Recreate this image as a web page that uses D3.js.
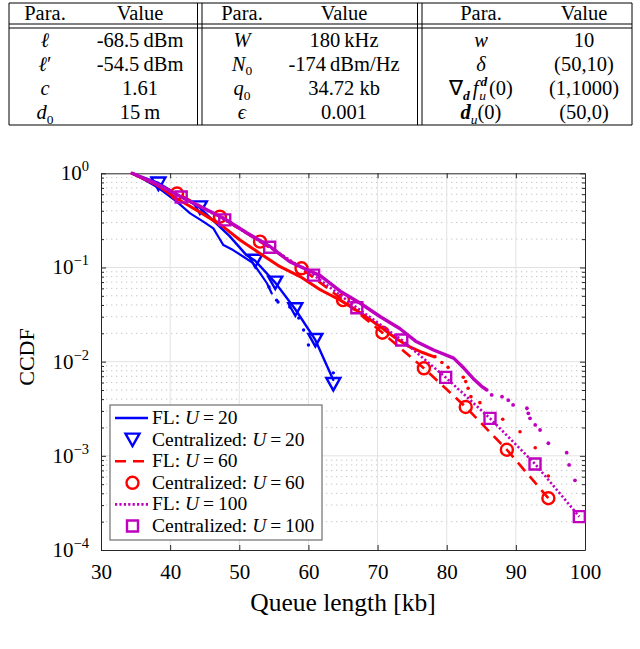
<!DOCTYPE html>
<html><head><meta charset="utf-8">
<script src="https://cdn.jsdelivr.net/npm/d3@7"></script>
<style>
body{margin:0;background:#fff}
svg{display:block}
text{font-family:"Liberation Serif","Times New Roman",serif;fill:#000}
</style>
</head><body>
<svg id="c" width="640" height="649"></svg>
<script>
// ---------------- data ----------------
const xTicks = [30, 40, 50, 60, 70, 80, 90, 100];
const yTicks = [1e-4, 1e-3, 1e-2, 1e-1, 1];
const yTickExp = ["\u22124", "\u22123", "\u22122", "\u22121", "0"];

// FL smooth curves
const flU20 = [[34.5,1],[38.3,0.79],[41,0.6],[44.3,0.43],[48.6,0.215],[51,0.136],[52.3,0.118],[55.2,0.069],[58.1,0.036],[61,0.017],[63.6,0.0064]];
const flU60 = [[34.5,1],[41,0.61],[47.2,0.346],[53,0.188],[59,0.098],[65,0.045],[70.7,0.0203],[76.7,0.0085],[82.75,0.0033],[88.7,0.00116],[94.7,0.000355]];
const flU100 = [[34.5,1],[41.6,0.56],[47.9,0.32],[54.4,0.164],[60.75,0.083],[67,0.0374],[73.5,0.017],[79.85,0.0068],[86.26,0.0025],[92.77,0.00082],[99.18,0.000226]];

// Centralized markers
const centU20 = [[38.3,0.78],[44.3,0.435],[52.3,0.118],[55.2,0.069],[58.1,0.036],[61.0,0.017],[63.6,0.0058]];
const centU60 = [[41,0.61],[47.2,0.346],[53,0.188],[59,0.098],[65,0.045],[70.7,0.0203],[76.7,0.0085],[82.75,0.0033],[88.7,0.00116],[94.7,0.000355]];
const centU100 = [[41.6,0.56],[47.9,0.32],[54.4,0.164],[60.75,0.083],[67,0.0374],[73.5,0.017],[79.85,0.0068],[86.26,0.0025],[92.77,0.00082],[99.18,0.000226]];

// empirical (unlabelled) traces and their sparse tails
const empU20 = [[34.5,1],[36.2,0.86],[38.05,0.72],[40.95,0.5],[42.9,0.376],[44.8,0.307],[46.25,0.26],[46.97,0.212],[47.7,0.173],[49.1,0.153],[50.6,0.13],[52,0.111],[53,0.087],[54,0.068],[54.7,0.053]];
const dotsU20 = [[54.3,0.062],[55.4,0.045],[55.6,0.043],[57.3,0.038],[58.6,0.029],[59.3,0.0217],[60,0.015],[63.6,0.0076]];
const empU60 = [[34.5,1],[38,0.76],[40.95,0.54],[44.5,0.38],[47.7,0.27],[50.1,0.196],[53,0.141],[55.9,0.102],[58.8,0.08],[61.7,0.058],[64.6,0.045],[67.5,0.033],[70.4,0.0235],[72.5,0.018],[74.5,0.0145],[76.5,0.0125],[78.1,0.0113]];
const dotsU60 = [[78.3,0.0113],[79.3,0.0098],[80.2,0.0087],[82.4,0.00683],[82.75,0.00614],[83.1,0.00522],[83.5,0.00425],[84.8,0.00367],[88.1,0.00245],[90.6,0.0018],[92.8,0.00122],[94.7,0.00061]];
const empU100 = [[34.5,1],[38,0.78],[41.6,0.56],[47.7,0.335],[51,0.235],[54.4,0.168],[57.3,0.115],[61.7,0.082],[64.6,0.056],[67.5,0.0417],[70.4,0.030],[73.2,0.0225],[75.5,0.0165],[78.1,0.0133],[81,0.0109],[82.5,0.0085],[83.85,0.0066],[85,0.0055],[85.8,0.005]];
const dotsU100 = [[86.5,0.00443],[88.0,0.00425],[88.9,0.0039],[89.6,0.00347],[91.6,0.0032],[91.8,0.00283],[92.05,0.0025],[92.8,0.00213],[93.5,0.00188],[94.7,0.00136],[97.35,0.00108],[97.7,0.0008],[98.55,0.00055]];

// legend
const legendLabels = [["FL: ","U"," = 20"],["Centralized: ","U"," = 20"],["FL: ","U"," = 60"],["Centralized: ","U"," = 60"],["FL: ","U"," = 100"],["Centralized: ","U"," = 100"]];

// table
const tableHeaders = ["Para.", "Value", "Para.", "Value", "Para.", "Value"];
const tableParams = [
  [ [["\u2113","i"]], [["\u2113","i"],["\u2032","n"]], [["c","i"]], [["d","i"],["0","n","sub"]] ],
  [ [["W","i"]], [["N","i"],["0","n","sub"]], [["q","i"],["0","n","sub"]], [["\u03F5","i"]] ],
  [ [["w","i"]], [["\u03B4","i"]], [["\u2207","n"],["d","bi","sub"],["f","i","base",3],["d","bi","sup",2],["u","i","subback"],["(0)","n","base",3]], [["d","bi"],["u","i","sub"],["(0)","n"]] ]
];
const tableValues = [
  ["-68.5\u2009dBm", "-54.5\u2009dBm", "1.61", "15\u2009m"],
  ["180\u2009kHz", "-174\u2009dBm/Hz", "34.72 kb", "0.001"],
  ["10", "(50,10)", "(1,1000)", "(50,0)"]
];

// ---------------- drawing ----------------
const svg = d3.select("#c");
const BLUE = "#0000ff", RED = "#ff0000", MAG = "#bf00bf";

// ---- table ----
const T = {l: 9, r: 632, t: 3, hb: 24, bt: 28, b: 125, v: [[197.5, 202], [417.5, 422]]};
const tg = svg.append("g").attr("stroke", "#000").attr("stroke-width", 1).attr("fill", "none");
[T.t, T.hb, T.bt, T.b].forEach(yy => tg.append("line").attr("x1", T.l).attr("x2", T.r).attr("y1", yy).attr("y2", yy));
[T.l, T.r].forEach(xx => tg.append("line").attr("x1", xx).attr("x2", xx).attr("y1", T.t).attr("y2", T.b));
T.v.forEach(p => p.forEach(xx => tg.append("line").attr("x1", xx).attr("x2", xx).attr("y1", T.t).attr("y2", T.b)));

const FS = 20.5;
const colCx = [[45, 140], [242, 344], [481, 584]];
const rowBase = [46.5, 70.7, 95, 119.3];
colCx.forEach((c, gi) => {
  svg.append("text").attr("x", c[0]).attr("y", 19.5).attr("text-anchor", "middle").attr("font-size", FS).text(tableHeaders[gi * 2]);
  svg.append("text").attr("x", c[1]).attr("y", 19.5).attr("text-anchor", "middle").attr("font-size", FS).text(tableHeaders[gi * 2 + 1]);
  tableParams[gi].forEach((spec, ri) => {
    const t = svg.append("text").attr("x", c[0]).attr("y", rowBase[ri]).attr("text-anchor", "middle").attr("font-size", FS);
    let cur = 0;
    spec.forEach(tok => {
      const [str, sty, pos, extra] = tok;
      let target = 0, dx = extra || 0, fs = FS;
      if (pos === "sub") { target = 4.5; fs = 13.5; }
      else if (pos === "sup") { target = -9.5; fs = 13.5; }
      else if (pos === "subback") { target = 4.5; fs = 13.5; dx = -8; }
      const ts = t.append("tspan").attr("dy", target - cur).attr("font-size", fs).text(str);
      if (dx) ts.attr("dx", dx);
      if (sty === "i") ts.attr("font-style", "italic");
      if (sty === "bi") ts.attr("font-style", "italic").attr("font-weight", "bold");
      cur = target;
    });
    svg.append("text").attr("x", c[1]).attr("y", rowBase[ri]).attr("text-anchor", "middle").attr("font-size", FS).text(tableValues[gi][ri]);
  });
});

// ---- plot ----
const P = {l: 101, r: 585, t: 173.3, b: 550};
const x = d3.scaleLinear().domain([30, 100]).range([P.l, P.r]);
const y = d3.scaleLog().domain([1e-4, 1]).range([P.b, P.t]);

const grid = svg.append("g");
const minorY = y.ticks().filter(v => !yTicks.some(d => Math.abs(Math.log10(v) - Math.log10(d)) < 1e-6));
grid.selectAll(".mn").data(minorY).enter().append("line")
  .attr("x1", P.l).attr("x2", P.r).attr("y1", d => y(d)).attr("y2", d => y(d))
  .attr("stroke", "#c4c4c4").attr("stroke-width", 1).attr("stroke-dasharray", "1.3,3.7");
grid.selectAll(".mj").data(yTicks.slice(1, -1)).enter().append("line")
  .attr("x1", P.l).attr("x2", P.r).attr("y1", d => y(d)).attr("y2", d => y(d))
  .attr("stroke", "#e2e2e2").attr("stroke-width", 1);
grid.selectAll(".mx").data(xTicks.slice(1, -1)).enter().append("line")
  .attr("x1", d => x(d)).attr("x2", d => x(d)).attr("y1", P.t).attr("y2", P.b)
  .attr("stroke", "#e2e2e2").attr("stroke-width", 1);

// axes
function styleAxis(g) { g.selectAll("path,line").attr("stroke", "#262626"); g.selectAll("text").remove(); }
svg.append("g").attr("transform", `translate(0,${P.b})`)
  .call(d3.axisBottom(x).tickValues(xTicks).tickSize(-5).tickSizeOuter(0).tickPadding(14))
  .call(g => { g.attr("font-family", null); g.selectAll("path,line").attr("stroke", "#262626");
    g.selectAll("text").attr("font-size", 21).attr("fill", "#000"); });
svg.append("g").attr("transform", `translate(0,${P.t})`)
  .call(d3.axisTop(x).tickValues(xTicks).tickSize(-5).tickSizeOuter(0)).call(styleAxis);
svg.append("g").attr("transform", `translate(${P.l},0)`)
  .call(d3.axisLeft(y).tickValues(yTicks).tickSize(-5).tickSizeOuter(0)).call(styleAxis);
svg.append("g").attr("transform", `translate(${P.l},0)`)
  .call(d3.axisLeft(y).tickValues(minorY).tickSize(-3).tickSizeOuter(0)).call(styleAxis)
  .select(".domain").remove();
svg.append("g").attr("transform", `translate(${P.r},0)`)
  .call(d3.axisRight(y).tickValues(yTicks).tickSize(-5).tickSizeOuter(0)).call(styleAxis);
svg.append("g").attr("transform", `translate(${P.r},0)`)
  .call(d3.axisRight(y).tickValues(minorY).tickSize(-3).tickSizeOuter(0)).call(styleAxis)
  .select(".domain").remove();

// y tick labels 10^k
yTicks.forEach((v, i) => {
  const t = svg.append("text").attr("x", 89).attr("y", y(v) + 7).attr("text-anchor", "end").attr("font-size", 21);
  t.append("tspan").text("10");
  t.append("tspan").attr("dy", -9).attr("font-size", 14.5).text(yTickExp[i]);
});

// axis titles
svg.append("text").attr("x", (P.l + P.r) / 2).attr("y", 611).attr("text-anchor", "middle").attr("font-size", 25.5).text("Queue length [kb]");
svg.append("text").attr("transform", `translate(34,357) rotate(-90)`).attr("text-anchor", "middle").attr("font-size", 22).text("CCDF");

// series
const line = d3.line().x(d => x(d[0])).y(d => y(d[1]));
const plot = svg.append("g");
function trace(data, color, w, dash) {
  const p = plot.append("path").datum(data).attr("d", line).attr("fill", "none")
    .attr("stroke", color).attr("stroke-width", w).attr("stroke-linejoin", "round");
  if (dash) p.attr("stroke-dasharray", dash); else p.attr("stroke-linecap", "round");
  return p;
}
function dots(data, color, r) {
  plot.append("g").selectAll("circle").data(data).enter().append("circle")
    .attr("cx", d => x(d[0])).attr("cy", d => y(d[1])).attr("r", r).attr("fill", color);
}
const triPath = "M-7,-6L7,-6L0,6.5Z";
const sqPath = "M-5.5,-5.5L5.5,-5.5L5.5,5.5L-5.5,5.5Z";
function markers(data, color, kind) {
  const g = plot.append("g");
  data.forEach(d => {
    const tx = x(d[0]), ty = y(d[1]);
    if (kind === "c") g.append("circle").attr("cx", tx).attr("cy", ty).attr("r", 6).attr("fill", "none").attr("stroke", color).attr("stroke-width", 2.4);
    else g.append("path").attr("d", kind === "t" ? triPath : sqPath).attr("transform", `translate(${tx},${ty})`)
      .attr("fill", "none").attr("stroke", color).attr("stroke-width", 2.4).attr("stroke-linejoin", "miter");
  });
}

trace(empU20, BLUE, 2.2);
dots(dotsU20, BLUE, 1.7);
trace(flU20, BLUE, 2.4);
markers(centU20, BLUE, "t");

trace(empU60, RED, 3);
dots(dotsU60, RED, 1.8);
trace(flU60, RED, 2.6, "11,7");
markers(centU60, RED, "c");

trace(empU100, MAG, 3.4);
dots(dotsU100, MAG, 1.9);
trace(flU100, MAG, 2.6, "2.2,2.2");
markers(centU100, MAG, "s");

// legend
const L = {x: 110, y: 405, w: 212, h: 135, r0: 418, dy: 21.6};
const lg = svg.append("g");
lg.append("rect").attr("x", L.x).attr("y", L.y).attr("width", L.w).attr("height", L.h)
  .attr("fill", "#fff").attr("stroke", "#6e6e6e").attr("stroke-width", 1.2);
const legSpec = [
  {c: BLUE, type: "line"}, {c: BLUE, type: "t"},
  {c: RED, type: "line", dash: "11,7"}, {c: RED, type: "c"},
  {c: MAG, type: "line", dash: "2.2,2.2"}, {c: MAG, type: "s"}
];
legSpec.forEach((s, i) => {
  const yy = L.r0 + i * L.dy;
  if (s.type === "line") {
    const l = lg.append("line").attr("x1", 115).attr("x2", 148).attr("y1", yy).attr("y2", yy)
      .attr("stroke", s.c).attr("stroke-width", 2.6);
    if (s.dash) l.attr("stroke-dasharray", s.dash);
  } else if (s.type === "c") {
    lg.append("circle").attr("cx", 132.5).attr("cy", yy).attr("r", 6).attr("fill", "none").attr("stroke", s.c).attr("stroke-width", 2.4);
  } else {
    lg.append("path").attr("d", s.type === "t" ? triPath : sqPath).attr("transform", `translate(132.5,${yy})`)
      .attr("fill", "none").attr("stroke", s.c).attr("stroke-width", 2.4);
  }
  const t = lg.append("text").attr("x", 152).attr("y", yy + 6).attr("font-size", 19.5);
  t.append("tspan").text(legendLabels[i][0]);
  t.append("tspan").attr("font-style", "italic").text(legendLabels[i][1]);
  t.append("tspan").text(legendLabels[i][2].replace(/ = /, "\u2009=\u2009"));
});
</script>
</body></html>
